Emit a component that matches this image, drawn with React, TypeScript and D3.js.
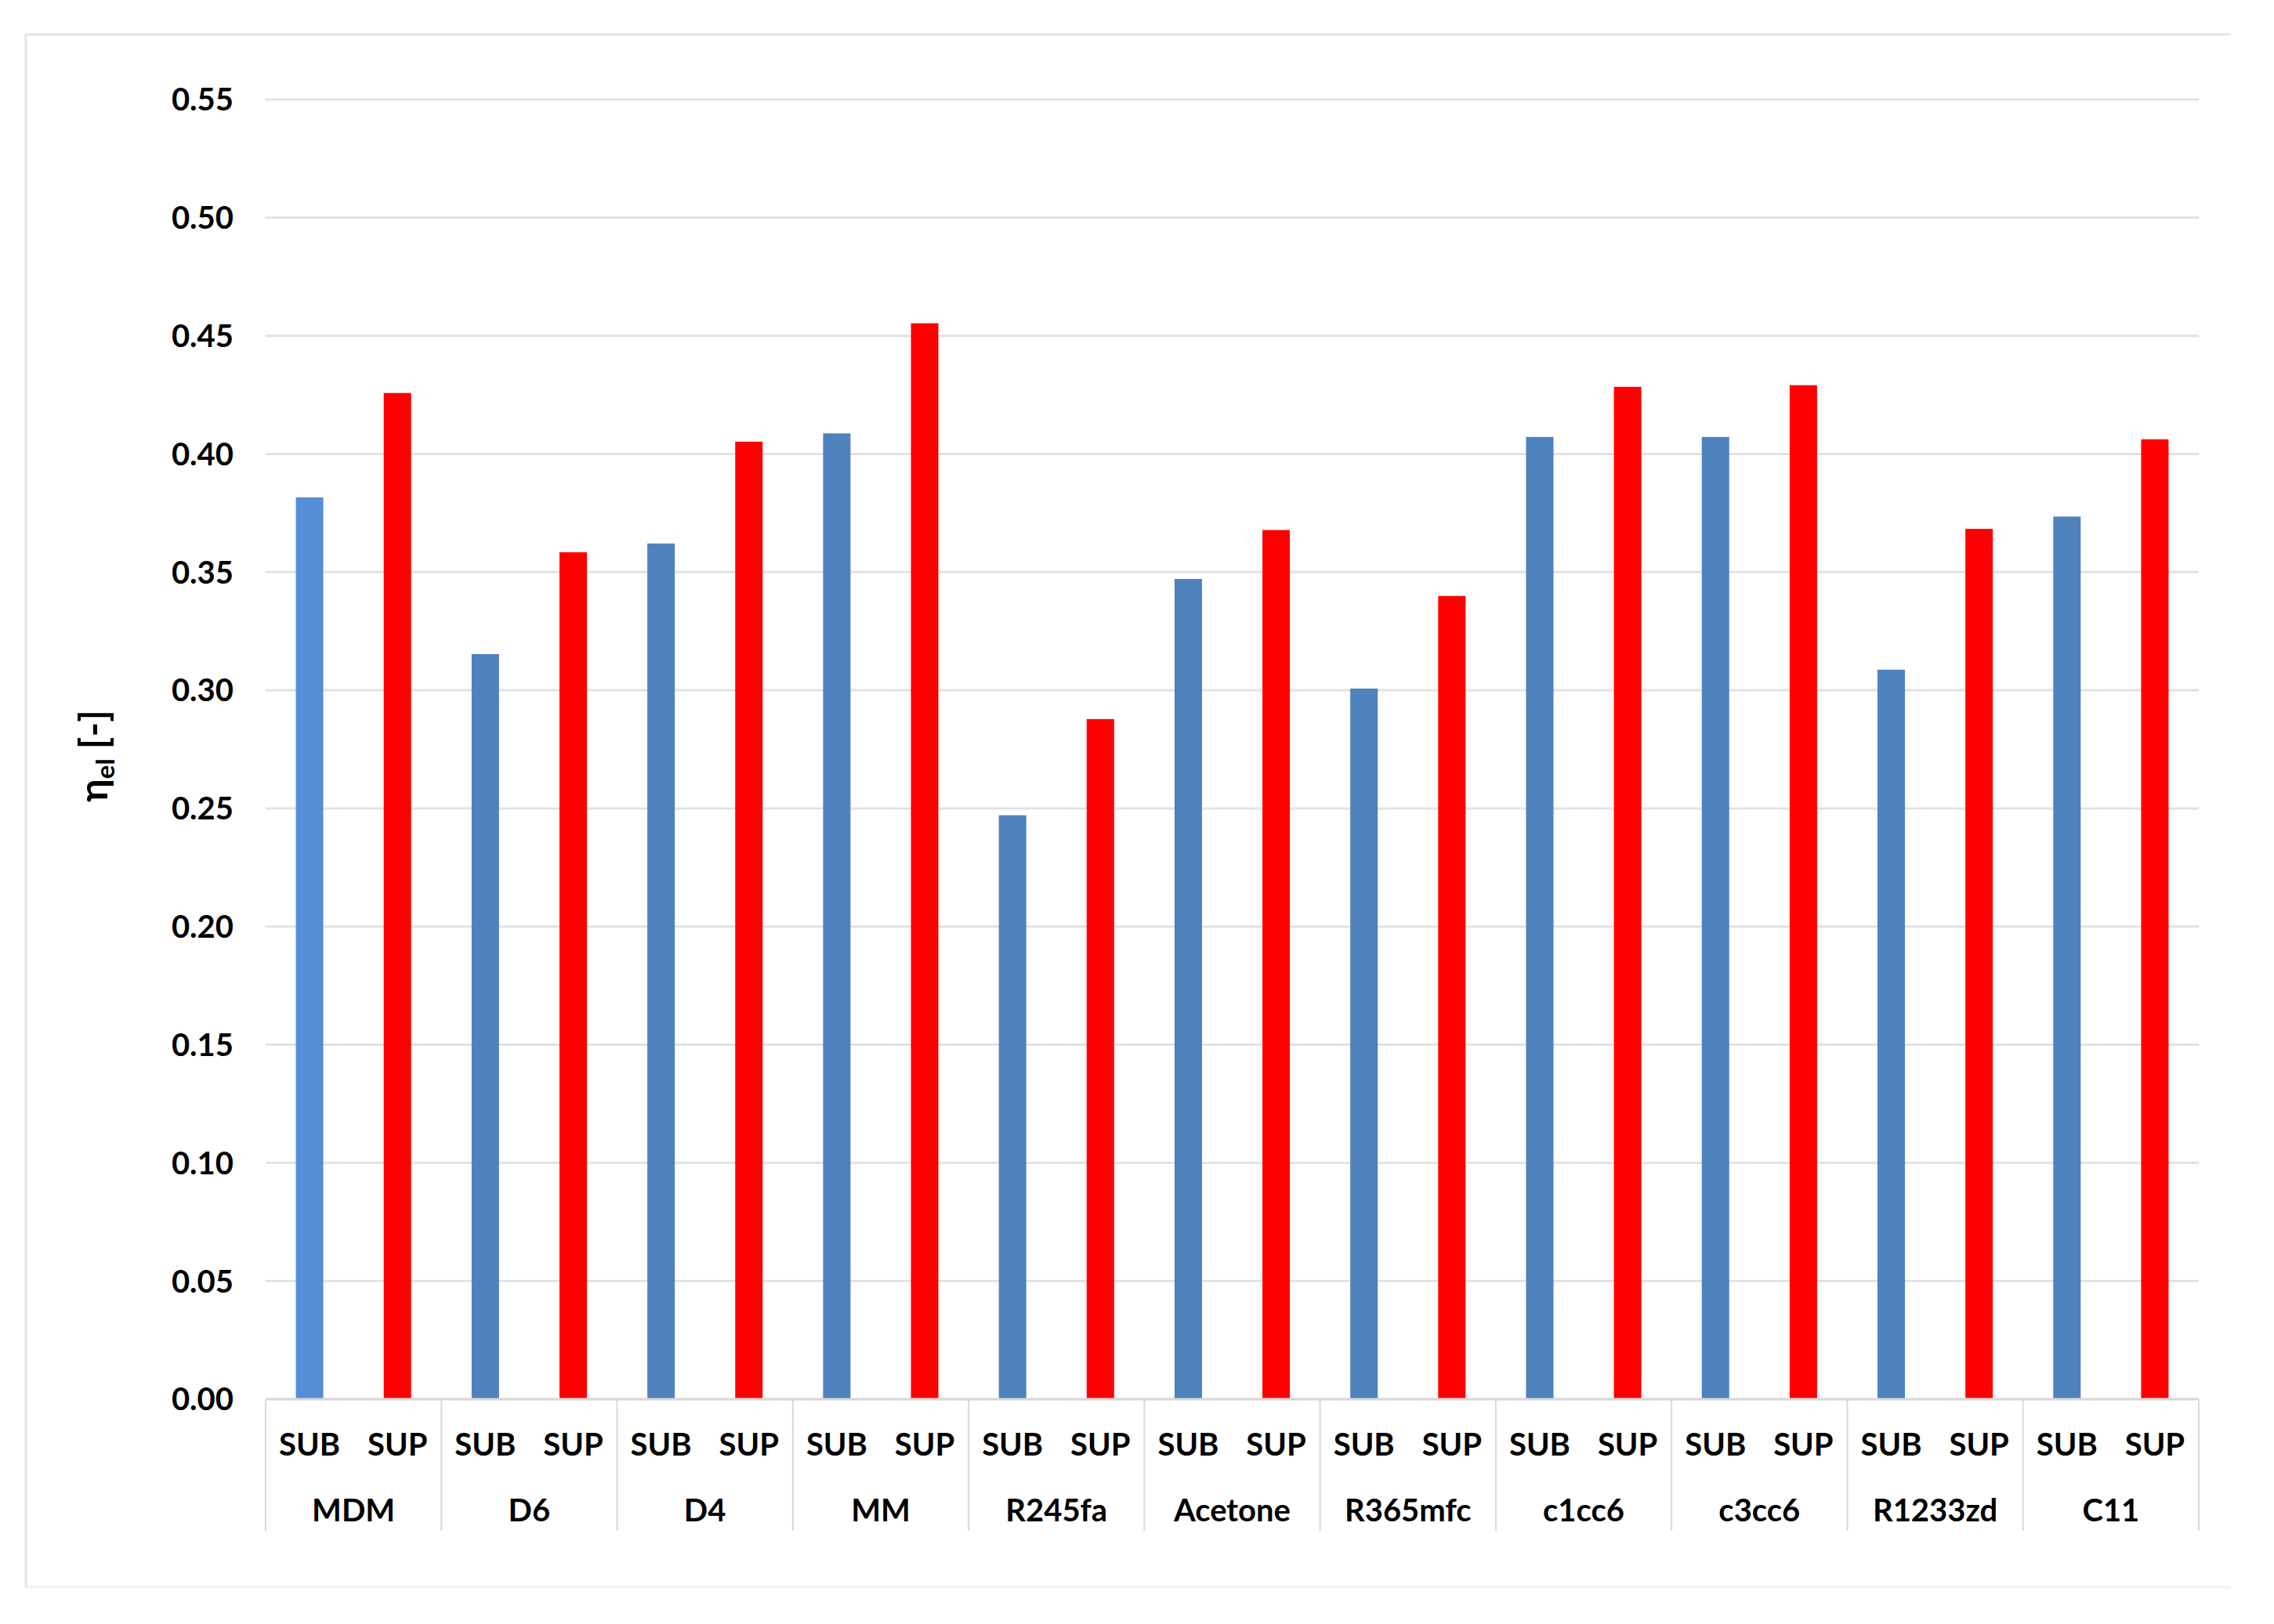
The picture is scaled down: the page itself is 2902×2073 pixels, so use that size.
import React from "react";
import * as d3 from "d3";

const categories = ["MDM", "D6", "D4", "MM", "R245fa", "Acetone", "R365mfc", "c1cc6", "c3cc6", "R1233zd", "C11"];
const subValues = [0.3816, 0.3153, 0.3621, 0.4087, 0.2471, 0.3471, 0.3007, 0.4072, 0.4072, 0.3087, 0.3735];
const supValues = [0.4258, 0.3584, 0.4052, 0.4553, 0.2878, 0.3678, 0.3399, 0.4284, 0.4291, 0.3683, 0.4062];
const seriesKeys = ["SUB", "SUP"];
const yTicks = [0, 0.05, 0.1, 0.15, 0.2, 0.25, 0.3, 0.35, 0.4, 0.45, 0.5, 0.55];

const W = 2902;
const H = 2073;
const plotLeft = 339;
const plotRight = 2806;
const plotTop = 127;
const plotBottom = 1786;
const FONT = "Lato, 'Open Sans', sans-serif";
const FS = 40;

export default function App() {
  const y = d3.scaleLinear().domain([0, 0.55]).range([plotBottom, plotTop]);
  const x0 = d3.scaleBand<string>().domain(categories).range([plotLeft, plotRight]).paddingInner(0).paddingOuter(0);
  const x1 = d3.scaleBand<string>().domain(seriesKeys).range([0, x0.bandwidth()]).padding(0);
  const barW = 35;

  const bars: { cat: string; key: string; v: number; color: string }[] = [];
  categories.forEach((c, i) => {
    bars.push({ cat: c, key: "SUB", v: subValues[i], color: i === 0 ? "#558ED5" : "#4F81BD" });
    bars.push({ cat: c, key: "SUP", v: supValues[i], color: "#FF0000" });
  });

  const boundaries = categories.map((c) => x0(c)!).concat([plotRight]);

  return (
    <svg
      width={W}
      height={H}
      viewBox={`0 0 ${W} ${H}`}
      style={{ position: "absolute", left: 0, top: 0, background: "#fff" }}
      fontFamily={FONT}
    >
      <rect x={0} y={0} width={W} height={H} fill="#fff" />
      {/* chart border (top, left, bottom) */}
      <line x1={33} y1={44} x2={2847} y2={44} stroke="#E3E3E3" strokeWidth={3} />
      <line x1={33} y1={44} x2={33} y2={2026} stroke="#E3E3E3" strokeWidth={3} />
      <line x1={33} y1={2026} x2={2847} y2={2026} stroke="#EFEFEF" strokeWidth={3} />

      {/* gridlines */}
      {yTicks.map((t) => (
        <line key={"g" + t} x1={plotLeft} x2={plotRight} y1={y(t)} y2={y(t)} stroke="#E2E2E2" strokeWidth={3} />
      ))}

      {/* y tick labels */}
      {yTicks.map((t) => (
        <text
          key={"t" + t}
          x={298}
          y={y(t)}
          dy="0.36em"
          textAnchor="end"
          fontSize={FS}
          fontWeight={700}
          fill="#000"
        >
          {t.toFixed(2)}
        </text>
      ))}

      {/* bars */}
      {bars.map((b) => {
        const cx = x0(b.cat)! + x1(b.key)! + x1.bandwidth() / 2;
        return (
          <rect
            key={b.cat + b.key}
            x={cx - barW / 2}
            y={y(b.v)}
            width={barW}
            height={y(0) - y(b.v)}
            fill={b.color}
          />
        );
      })}

      {/* category axis */}
      <line x1={plotLeft} x2={plotRight} y1={plotBottom} y2={plotBottom} stroke="#D9D9D9" strokeWidth={3} />
      {boundaries.map((bx, i) => (
        <line key={"s" + i} x1={bx} x2={bx} y1={plotBottom} y2={1954} stroke="#D9D9D9" strokeWidth={2} />
      ))}

      {/* SUB / SUP labels */}
      {categories.map((c) =>
        seriesKeys.map((k) => (
          <text
            key={"l" + c + k}
            x={x0(c)! + x1(k)! + x1.bandwidth() / 2}
            y={1858}
            textAnchor="middle"
            fontSize={FS}
            fontWeight={700}
            fill="#000"
          >
            {k}
          </text>
        ))
      )}

      {/* category names */}
      {categories.map((c) => (
        <text
          key={"c" + c}
          x={x0(c)! + x0.bandwidth() / 2}
          y={1942}
          textAnchor="middle"
          fontSize={FS}
          fontWeight={700}
          fill="#000"
        >
          {c}
        </text>
      ))}

      {/* y-axis title */}
      <text
        transform={`translate(137, 965) rotate(-90)`}
        textAnchor="middle"
        fontSize={50}
        fontWeight={700}
        fill="#000"
      >
        η
        <tspan fontSize={33} dy={9}>el</tspan>
        <tspan dy={-9}> [-]</tspan>
      </text>
    </svg>
  );
}
